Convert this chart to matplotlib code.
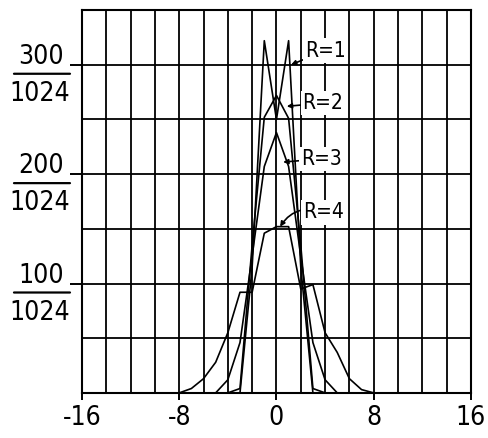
import matplotlib
matplotlib.use('Agg')
import matplotlib.pyplot as plt
import matplotlib.transforms as mtransforms

# counts out of 1024 per offset
x1 = [-3, -2, -1, 0, 1, 2, 3]
y1 = [0, 115, 322, 250, 322, 115, 0]
x2 = [-4, -3, -2, -1, 0, 1, 2, 3, 4]
y2 = [0, 4, 135, 252, 272, 251, 135, 4, 0]
x3 = [-5, -4, -3, -2, -1, 0, 1, 2, 3, 4, 5]
y3 = [0, 12, 46, 125, 207, 238, 207, 125, 46, 12, 0]
x4 = [-8, -7, -6, -5, -4, -3, -2, -1, 0, 1, 2, 3, 4, 5, 6, 7, 8]
y4 = [0, 4, 13, 28, 55, 92, 92, 146, 152, 152, 95, 99, 55, 37, 13, 3, 0]

labels = ['R=1', 'R=2', 'R=3', 'R=4']
label_xy = [(2.35, 313), (2.15, 265), (2.0, 214), (2.2, 165)]
arrow_to = [(1.2, 300), (0.85, 262), (0.55, 211), (0.3, 152)]

xticks = [-16, -8, 0, 8, 16]
yticks = [100, 200, 300]
denom = '1024'

font = dict(family='DejaVu Sans', stretch='condensed')

fig = plt.figure(figsize=(4.88, 4.38), dpi=100)
ax = fig.add_axes([0.168, 0.103, 0.797, 0.874])

for xs, ys in [(x1, y1), (x2, y2), (x3, y3), (x4, y4)]:
    ax.plot(xs, ys, color='black', lw=1.2, zorder=3)

ax.set_xlim(-16, 16)
ax.set_ylim(0, 350)
ax.set_xticks(xticks)
ax.set_xticks(range(-16, 17, 2), minor=True)
ax.set_yticks(yticks)
ax.set_yticks(range(0, 351, 50), minor=True)
ax.grid(True, which='both', color='black', lw=1.3)
ax.tick_params(which='minor', length=0)
ax.tick_params(axis='x', which='major', length=5, width=1.4, direction='out', pad=4)
ax.tick_params(axis='y', which='major', length=9, width=1.4, direction='out')
ax.set_xticklabels([str(t) for t in xticks], fontsize=19, **font)
ax.set_yticklabels([])
for s in ax.spines.values():
    s.set_linewidth(1.5)

# fraction labels on the y axis
ytrans = ax.get_yaxis_transform()
for v in yticks:
    ax.annotate(str(v), xy=(0, v), xycoords=ytrans, xytext=(-41, 8),
                textcoords='offset pixels', ha='center', va='center',
                fontsize=19, annotation_clip=False, **font)
    ax.annotate(denom, xy=(0, v), xycoords=ytrans, xytext=(-42, -29),
                textcoords='offset pixels', ha='center', va='center',
                fontsize=19, annotation_clip=False, **font)
    bar = mtransforms.offset_copy(ytrans, fig=fig, x=-12, y=-9, units='dots')
    ax.annotate('', xy=(0, v), xycoords=bar, xytext=(-56, 0),
                textcoords='offset pixels', annotation_clip=False,
                arrowprops=dict(arrowstyle='-', lw=1.6, shrinkA=0, shrinkB=0))

# curve labels with leaders
for i, lab in enumerate(labels):
    rad = 0.4 if i == 3 else 0.0
    ax.annotate(lab, xy=arrow_to[i], xytext=label_xy[i], ha='left', va='center',
                fontsize=15, zorder=5,
                bbox=dict(boxstyle='square,pad=0.1', fc='white', ec='none'),
                arrowprops=dict(arrowstyle='-|>', lw=1.2, color='black',
                                mutation_scale=7, shrinkA=0, shrinkB=0,
                                connectionstyle='arc3,rad=%s' % rad),
                **font)

fig.savefig('out.png', dpi=100)
